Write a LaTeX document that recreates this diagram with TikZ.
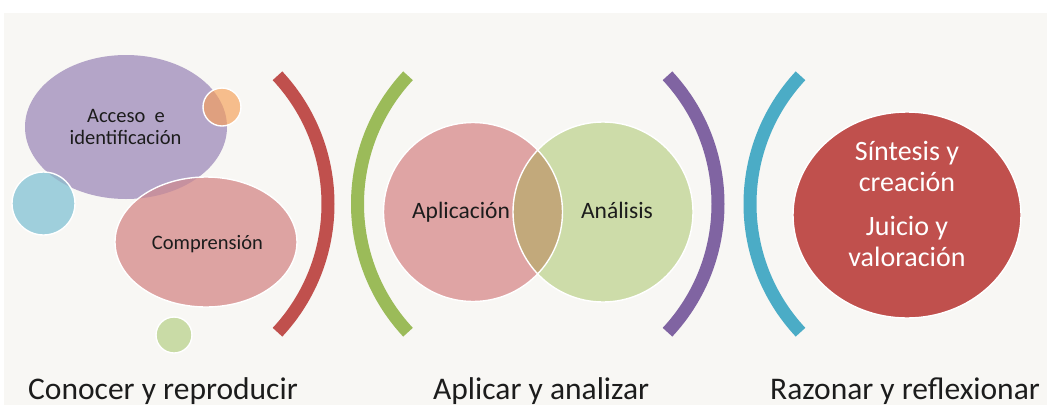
\documentclass[tikz,border=0pt]{standalone}
\usepackage{fontspec}
\setmainfont{Carlito}
\usetikzlibrary{shapes.geometric}

\definecolor{paper}{HTML}{F8F7F4}
\definecolor{lilac}{HTML}{B4A5C8}
\definecolor{sky}{HTML}{9FCFDC}
\definecolor{apricot}{HTML}{F6BD8C}
\definecolor{rose}{HTML}{DDA3A2}
\definecolor{sage}{HTML}{C9DBA6}
\definecolor{venrose}{HTML}{DFA4A4}
\definecolor{vengreen}{HTML}{CDDCA9}
\definecolor{lens}{HTML}{C2A97B}
\definecolor{mauve}{HTML}{C6919F}
\definecolor{peach}{HTML}{DFA07F}
\definecolor{steel}{HTML}{97B6CB}
\definecolor{brick}{HTML}{C0504D}
\definecolor{leaf}{HTML}{9BBB59}
\definecolor{violet}{HTML}{8064A2}
\definecolor{teal}{HTML}{4BACC6}
\definecolor{ink}{HTML}{1C1C1C}

\tikzset{
  blob/.style={draw=white, line width=1.4pt},
  bracket/.style={line width=13pt, line cap=butt},
  small/.style={font=\fontsize{20.5pt}{22pt}\selectfont, text=ink, anchor=base, inner sep=0pt},
  venn/.style={font=\fontsize{23.5pt}{26pt}\selectfont, text=ink, anchor=base, inner sep=0pt},
  big/.style={font=\fontsize{28pt}{31pt}\selectfont, text=white, anchor=base, inner sep=0pt},
  caption/.style={font=\fontsize{31.5pt}{34pt}\selectfont, text=ink, anchor=base west, inner sep=0pt},
}

\begin{document}
\begin{tikzpicture}[x=1pt, y=-1pt]
  % page and canvas
  \fill[white] (0,0) rectangle (1047,405);
  \useasboundingbox (0,0) rectangle (1047,405);
  \fill[paper] (4,13) rectangle (1047,405);

  % ---- first group: bubbles ----
  \coordinate (acc) at (126,127);
  \coordinate (com) at (206,242);
  \coordinate (blu) at (43.5,203.5);
  \coordinate (ora) at (222,107);
  \coordinate (grn) at (174,335);

  \fill[lilac] (acc) ellipse[x radius=101, y radius=72];
  \fill[sky] (blu) circle[radius=31.5];
  \fill[apricot] (ora) circle[radius=19];
  \fill[rose] (com) ellipse[x radius=91, y radius=65];
  % overlaps
  \begin{scope}
    \clip (acc) ellipse[x radius=101, y radius=72];
    \fill[mauve] (com) ellipse[x radius=91, y radius=65];
    \fill[peach] (ora) circle[radius=19];
    \fill[steel] (blu) circle[radius=31.5];
  \end{scope}
  \draw[blob] (blu) circle[radius=31.5];
  \draw[blob] (ora) circle[radius=19];
  \draw[blob] (com) ellipse[x radius=91, y radius=65];
  \fill[sage] (grn) circle[radius=18];
  \draw[blob] (grn) circle[radius=18];

  % ---- brackets ----
  \coordinate (rc) at (140,204);
  \coordinate (gc) at (545.5,204);
  \coordinate (pc) at (530,204);
  \coordinate (bc) at (938,204);
  \draw[bracket, brick]  (rc) ++(-43:188) arc[start angle=-43, end angle=43, radius=188];
  \draw[bracket, leaf]   (gc) ++(137:188) arc[start angle=137, end angle=223, radius=188];
  \draw[bracket, violet] (pc) ++(-43:188) arc[start angle=-43, end angle=43, radius=188];
  \draw[bracket, teal]   (bc) ++(137:188) arc[start angle=137, end angle=223, radius=188];

  % ---- second group: two circles ----
  \coordinate (apl) at (473,212);
  \coordinate (ana) at (603,212);
  \fill[venrose] (apl) circle[radius=89.5];
  \fill[vengreen] (ana) circle[radius=90];
  \begin{scope}
    \clip (apl) circle[radius=89.5];
    \fill[lens] (ana) circle[radius=90];
  \end{scope}
  \draw[blob] (apl) circle[radius=89.5];
  \draw[blob] (ana) circle[radius=90];

  % ---- third group ----
  \coordinate (sin) at (907,215);
  \fill[brick] (sin) ellipse[x radius=114, y radius=103];
  \draw[blob] (sin) ellipse[x radius=114, y radius=103];

  % ---- labels ----
  \node[small] (t1a) at (126,122) {Acceso~~e};
  \node[small] (t1b) at (125.5,144) {identificación};
  \node[small] (t2)  at (207.5,249) {Comprensión};
  \node[venn]  (t3)  at (461,218) {Aplicación};
  \node[venn]  (t4)  at (617,218) {Análisis};
  \node[big]   (t5a) at (907,160) {Síntesis y};
  \node[big]   (t5b) at (907,191) {creación};
  \node[big]   (t6a) at (907,235) {Juicio y};
  \node[big]   (t6b) at (907,266) {valoración};

  \node[caption] (c1) at (28,399)  {Conocer y reproducir};
  \node[caption] (c2) at (433,399) {Aplicar y analizar};
  \node[caption] (c3) at (770,399) {Razonar y reflexionar};
\end{tikzpicture}
\end{document}
